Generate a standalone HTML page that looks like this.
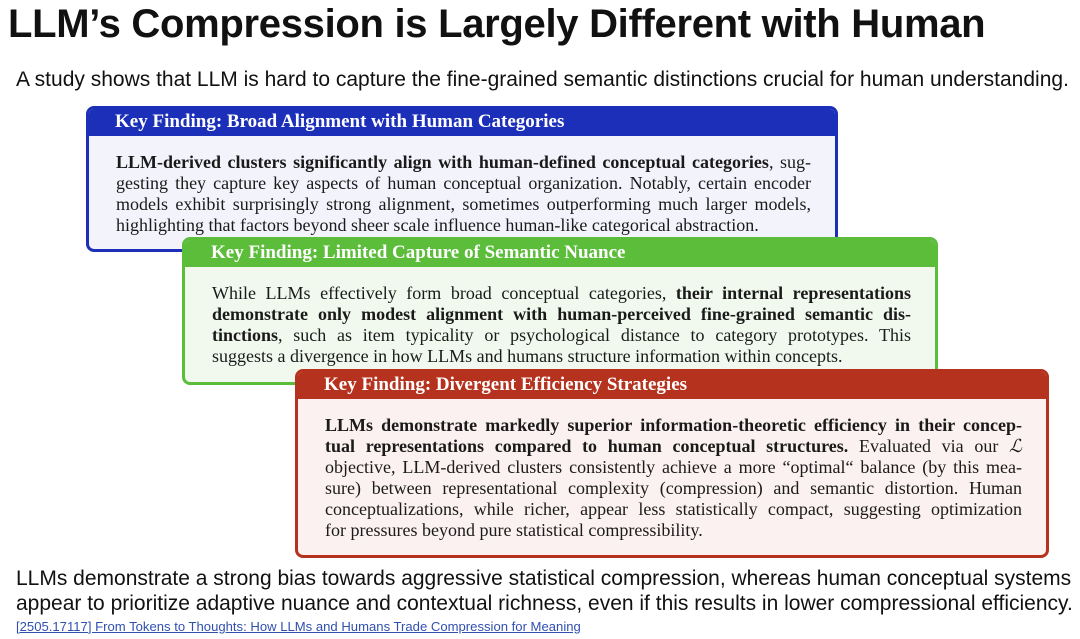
<!DOCTYPE html>
<html><head><meta charset="utf-8"><style>
body{margin:0;width:1080px;height:639px;background:#fff;position:relative;overflow:hidden;font-family:"Liberation Sans",sans-serif;color:#111}
.t{position:absolute;left:8px;top:2px;font-size:40px;font-weight:bold;white-space:nowrap;letter-spacing:-0.3px}
.s{position:absolute;left:16px;top:68px;font-size:21px;white-space:nowrap}
.box{position:absolute;border:3px solid;border-radius:8px;font-family:"Liberation Serif",serif;overflow:hidden}
.h{color:#fff;font-weight:bold;font-size:19px;height:27px;line-height:26px;padding-left:26px;white-space:nowrap}
.b{padding:16px 24px 0 27px;font-size:18px;line-height:21px;color:#1a1a1a}
.b div{text-align:justify;text-align-last:justify;white-space:nowrap}
.b div.l{text-align-last:left}
.bot{position:absolute;left:16px;font-size:21px;white-space:nowrap}
a{position:absolute;left:16px;top:619px;font-size:13.1px;color:#3050b0;text-decoration:underline;white-space:nowrap}
</style></head><body>
<div class="t">LLM’s Compression is Largely Different with Human</div>
<div class="s">A study shows that LLM is hard to capture the fine-grained semantic distinctions crucial for human understanding.</div>
<div class="box" style="left:86px;top:106px;width:746px;height:140px;border-color:#1c2fb8;background:#f3f3fb">
<div class="h" style="background:#1c2fb8">Key Finding: Broad Alignment with Human Categories</div>
<div class="b">
<div><b>LLM-derived clusters significantly align with human-defined conceptual categories</b>, sug-</div>
<div>gesting they capture key aspects of human conceptual organization. Notably, certain encoder</div>
<div>models exhibit surprisingly strong alignment, sometimes outperforming much larger models,</div>
<div class="l">highlighting that factors beyond sheer scale influence human-like categorical abstraction.</div>
</div></div>
<div class="box" style="left:182px;top:237px;width:750px;height:142px;border-color:#5cbd3b;background:#f1f9ee">
<div class="h" style="background:#5cbd3b">Key Finding: Limited Capture of Semantic Nuance</div>
<div class="b">
<div>While LLMs effectively form broad conceptual categories, <b>their internal representations</b></div>
<div><b>demonstrate only modest alignment with human-perceived fine-grained semantic dis-</b></div>
<div><b>tinctions</b>, such as item typicality or psychological distance to category prototypes. This</div>
<div class="l">suggests a divergence in how LLMs and humans structure information within concepts.</div>
</div></div>
<div class="box" style="left:295px;top:369px;width:748px;height:183px;border-color:#b5321f;background:#fbf1f0">
<div class="h" style="background:#b5321f">Key Finding: Divergent Efficiency Strategies</div>
<div class="b">
<div><b>LLMs demonstrate markedly superior information-theoretic efficiency in their concep-</b></div>
<div><b>tual representations compared to human conceptual structures.</b> Evaluated via our <i>ℒ</i></div>
<div>objective, LLM-derived clusters consistently achieve a more “optimal“ balance (by this mea-</div>
<div>sure) between representational complexity (compression) and semantic distortion. Human</div>
<div>conceptualizations, while richer, appear less statistically compact, suggesting optimization</div>
<div class="l">for pressures beyond pure statistical compressibility.</div>
</div></div>
<div class="bot" style="top:567px">LLMs demonstrate a strong bias towards aggressive statistical compression, whereas human conceptual systems</div>
<div class="bot" style="top:592px">appear to prioritize adaptive nuance and contextual richness, even if this results in lower compressional efficiency.</div>
<a>[2505.17117] From Tokens to Thoughts: How LLMs and Humans Trade Compression for Meaning</a>
</body></html>
